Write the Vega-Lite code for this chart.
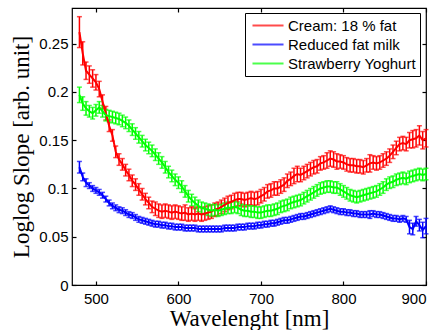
{
  "$schema": "https://vega.github.io/schema/vega-lite/v6.json",
  "width": 354,
  "height": 277,
  "autosize": {"type": "none"},
  "padding": {"left": 72, "top": 8, "right": 14, "bottom": 45},
  "background": "white",
  "config": {
    "view": {"stroke": "black", "strokeWidth": 1.2},
    "axis": {"grid": false, "domain": false, "ticks": true, "tickSize": -4, "tickColor": "black", "tickWidth": 1.2, "zindex": 2, "labelColor": "black", "titleColor": "black", "labelFont": "Liberation Sans", "labelFontSize": 15, "titleFont": "Liberation Serif", "titleFontSize": 23, "titleFontWeight": "normal"}
  },
  "data": {"values": [
{"w":480,"s":"Cream: 18 % fat","y":0.262,"e":0.016},{"w":484,"s":"Cream: 18 % fat","y":0.240,"e":0.012},{"w":488,"s":"Cream: 18 % fat","y":0.222,"e":0.009},{"w":492,"s":"Cream: 18 % fat","y":0.218,"e":0.009},{"w":496,"s":"Cream: 18 % fat","y":0.214,"e":0.009},{"w":500,"s":"Cream: 18 % fat","y":0.210,"e":0.008},{"w":504,"s":"Cream: 18 % fat","y":0.203,"e":0.008},{"w":508,"s":"Cream: 18 % fat","y":0.190,"e":0.007},{"w":512,"s":"Cream: 18 % fat","y":0.178,"e":0.007},{"w":516,"s":"Cream: 18 % fat","y":0.165,"e":0.006},{"w":520,"s":"Cream: 18 % fat","y":0.155,"e":0.006},{"w":524,"s":"Cream: 18 % fat","y":0.138,"e":0.006},{"w":528,"s":"Cream: 18 % fat","y":0.130,"e":0.006},{"w":532,"s":"Cream: 18 % fat","y":0.125,"e":0.006},{"w":536,"s":"Cream: 18 % fat","y":0.119,"e":0.006},{"w":540,"s":"Cream: 18 % fat","y":0.114,"e":0.006},{"w":544,"s":"Cream: 18 % fat","y":0.108,"e":0.006},{"w":548,"s":"Cream: 18 % fat","y":0.104,"e":0.006},{"w":552,"s":"Cream: 18 % fat","y":0.099,"e":0.006},{"w":556,"s":"Cream: 18 % fat","y":0.094,"e":0.006},{"w":560,"s":"Cream: 18 % fat","y":0.089,"e":0.006},{"w":564,"s":"Cream: 18 % fat","y":0.085,"e":0.006},{"w":568,"s":"Cream: 18 % fat","y":0.081,"e":0.006},{"w":572,"s":"Cream: 18 % fat","y":0.079,"e":0.007},{"w":576,"s":"Cream: 18 % fat","y":0.077,"e":0.007},{"w":580,"s":"Cream: 18 % fat","y":0.076,"e":0.007},{"w":584,"s":"Cream: 18 % fat","y":0.077,"e":0.007},{"w":588,"s":"Cream: 18 % fat","y":0.076,"e":0.007},{"w":592,"s":"Cream: 18 % fat","y":0.075,"e":0.007},{"w":596,"s":"Cream: 18 % fat","y":0.076,"e":0.007},{"w":600,"s":"Cream: 18 % fat","y":0.075,"e":0.007},{"w":604,"s":"Cream: 18 % fat","y":0.074,"e":0.007},{"w":608,"s":"Cream: 18 % fat","y":0.075,"e":0.008},{"w":612,"s":"Cream: 18 % fat","y":0.073,"e":0.007},{"w":616,"s":"Cream: 18 % fat","y":0.074,"e":0.007},{"w":620,"s":"Cream: 18 % fat","y":0.073,"e":0.007},{"w":624,"s":"Cream: 18 % fat","y":0.074,"e":0.007},{"w":628,"s":"Cream: 18 % fat","y":0.073,"e":0.007},{"w":632,"s":"Cream: 18 % fat","y":0.074,"e":0.007},{"w":636,"s":"Cream: 18 % fat","y":0.075,"e":0.007},{"w":640,"s":"Cream: 18 % fat","y":0.076,"e":0.007},{"w":644,"s":"Cream: 18 % fat","y":0.078,"e":0.007},{"w":648,"s":"Cream: 18 % fat","y":0.079,"e":0.007},{"w":652,"s":"Cream: 18 % fat","y":0.081,"e":0.007},{"w":656,"s":"Cream: 18 % fat","y":0.083,"e":0.007},{"w":660,"s":"Cream: 18 % fat","y":0.085,"e":0.007},{"w":664,"s":"Cream: 18 % fat","y":0.086,"e":0.007},{"w":668,"s":"Cream: 18 % fat","y":0.088,"e":0.007},{"w":672,"s":"Cream: 18 % fat","y":0.089,"e":0.007},{"w":676,"s":"Cream: 18 % fat","y":0.089,"e":0.007},{"w":680,"s":"Cream: 18 % fat","y":0.088,"e":0.007},{"w":684,"s":"Cream: 18 % fat","y":0.089,"e":0.007},{"w":688,"s":"Cream: 18 % fat","y":0.090,"e":0.007},{"w":692,"s":"Cream: 18 % fat","y":0.089,"e":0.007},{"w":696,"s":"Cream: 18 % fat","y":0.090,"e":0.007},{"w":700,"s":"Cream: 18 % fat","y":0.092,"e":0.007},{"w":704,"s":"Cream: 18 % fat","y":0.094,"e":0.007},{"w":708,"s":"Cream: 18 % fat","y":0.097,"e":0.007},{"w":712,"s":"Cream: 18 % fat","y":0.098,"e":0.007},{"w":716,"s":"Cream: 18 % fat","y":0.100,"e":0.007},{"w":720,"s":"Cream: 18 % fat","y":0.100,"e":0.007},{"w":724,"s":"Cream: 18 % fat","y":0.102,"e":0.007},{"w":728,"s":"Cream: 18 % fat","y":0.104,"e":0.007},{"w":732,"s":"Cream: 18 % fat","y":0.108,"e":0.007},{"w":736,"s":"Cream: 18 % fat","y":0.110,"e":0.007},{"w":740,"s":"Cream: 18 % fat","y":0.113,"e":0.008},{"w":744,"s":"Cream: 18 % fat","y":0.115,"e":0.008},{"w":748,"s":"Cream: 18 % fat","y":0.114,"e":0.007},{"w":752,"s":"Cream: 18 % fat","y":0.116,"e":0.007},{"w":756,"s":"Cream: 18 % fat","y":0.118,"e":0.007},{"w":760,"s":"Cream: 18 % fat","y":0.120,"e":0.007},{"w":764,"s":"Cream: 18 % fat","y":0.122,"e":0.007},{"w":768,"s":"Cream: 18 % fat","y":0.123,"e":0.007},{"w":772,"s":"Cream: 18 % fat","y":0.126,"e":0.007},{"w":776,"s":"Cream: 18 % fat","y":0.127,"e":0.007},{"w":780,"s":"Cream: 18 % fat","y":0.129,"e":0.008},{"w":784,"s":"Cream: 18 % fat","y":0.131,"e":0.008},{"w":788,"s":"Cream: 18 % fat","y":0.130,"e":0.008},{"w":792,"s":"Cream: 18 % fat","y":0.128,"e":0.008},{"w":796,"s":"Cream: 18 % fat","y":0.128,"e":0.007},{"w":800,"s":"Cream: 18 % fat","y":0.127,"e":0.007},{"w":804,"s":"Cream: 18 % fat","y":0.125,"e":0.007},{"w":808,"s":"Cream: 18 % fat","y":0.124,"e":0.007},{"w":812,"s":"Cream: 18 % fat","y":0.124,"e":0.007},{"w":816,"s":"Cream: 18 % fat","y":0.123,"e":0.007},{"w":820,"s":"Cream: 18 % fat","y":0.123,"e":0.007},{"w":824,"s":"Cream: 18 % fat","y":0.122,"e":0.007},{"w":828,"s":"Cream: 18 % fat","y":0.124,"e":0.007},{"w":832,"s":"Cream: 18 % fat","y":0.126,"e":0.009},{"w":836,"s":"Cream: 18 % fat","y":0.127,"e":0.007},{"w":840,"s":"Cream: 18 % fat","y":0.126,"e":0.007},{"w":844,"s":"Cream: 18 % fat","y":0.127,"e":0.007},{"w":848,"s":"Cream: 18 % fat","y":0.129,"e":0.007},{"w":852,"s":"Cream: 18 % fat","y":0.131,"e":0.007},{"w":856,"s":"Cream: 18 % fat","y":0.134,"e":0.007},{"w":860,"s":"Cream: 18 % fat","y":0.138,"e":0.007},{"w":864,"s":"Cream: 18 % fat","y":0.142,"e":0.007},{"w":868,"s":"Cream: 18 % fat","y":0.146,"e":0.007},{"w":872,"s":"Cream: 18 % fat","y":0.147,"e":0.007},{"w":876,"s":"Cream: 18 % fat","y":0.146,"e":0.007},{"w":880,"s":"Cream: 18 % fat","y":0.150,"e":0.008},{"w":884,"s":"Cream: 18 % fat","y":0.151,"e":0.009},{"w":888,"s":"Cream: 18 % fat","y":0.152,"e":0.009},{"w":892,"s":"Cream: 18 % fat","y":0.155,"e":0.010},{"w":896,"s":"Cream: 18 % fat","y":0.150,"e":0.009},{"w":900,"s":"Cream: 18 % fat","y":0.152,"e":0.009},
{"w":480,"s":"Reduced fat milk","y":0.122,"e":0.006},{"w":484,"s":"Reduced fat milk","y":0.112,"e":0.004},{"w":488,"s":"Reduced fat milk","y":0.106,"e":0.004},{"w":492,"s":"Reduced fat milk","y":0.103,"e":0.003},{"w":496,"s":"Reduced fat milk","y":0.100,"e":0.003},{"w":500,"s":"Reduced fat milk","y":0.098,"e":0.003},{"w":504,"s":"Reduced fat milk","y":0.096,"e":0.003},{"w":508,"s":"Reduced fat milk","y":0.093,"e":0.003},{"w":512,"s":"Reduced fat milk","y":0.089,"e":0.003},{"w":516,"s":"Reduced fat milk","y":0.085,"e":0.003},{"w":520,"s":"Reduced fat milk","y":0.082,"e":0.003},{"w":524,"s":"Reduced fat milk","y":0.080,"e":0.003},{"w":528,"s":"Reduced fat milk","y":0.078,"e":0.003},{"w":532,"s":"Reduced fat milk","y":0.077,"e":0.003},{"w":536,"s":"Reduced fat milk","y":0.075,"e":0.003},{"w":540,"s":"Reduced fat milk","y":0.073,"e":0.003},{"w":544,"s":"Reduced fat milk","y":0.072,"e":0.003},{"w":548,"s":"Reduced fat milk","y":0.070,"e":0.003},{"w":552,"s":"Reduced fat milk","y":0.068,"e":0.003},{"w":556,"s":"Reduced fat milk","y":0.067,"e":0.003},{"w":560,"s":"Reduced fat milk","y":0.066,"e":0.003},{"w":564,"s":"Reduced fat milk","y":0.065,"e":0.003},{"w":568,"s":"Reduced fat milk","y":0.064,"e":0.003},{"w":572,"s":"Reduced fat milk","y":0.063,"e":0.003},{"w":576,"s":"Reduced fat milk","y":0.063,"e":0.003},{"w":580,"s":"Reduced fat milk","y":0.062,"e":0.003},{"w":584,"s":"Reduced fat milk","y":0.062,"e":0.003},{"w":588,"s":"Reduced fat milk","y":0.061,"e":0.003},{"w":592,"s":"Reduced fat milk","y":0.061,"e":0.003},{"w":596,"s":"Reduced fat milk","y":0.060,"e":0.003},{"w":600,"s":"Reduced fat milk","y":0.060,"e":0.003},{"w":604,"s":"Reduced fat milk","y":0.060,"e":0.003},{"w":608,"s":"Reduced fat milk","y":0.059,"e":0.003},{"w":612,"s":"Reduced fat milk","y":0.059,"e":0.003},{"w":616,"s":"Reduced fat milk","y":0.059,"e":0.003},{"w":620,"s":"Reduced fat milk","y":0.059,"e":0.003},{"w":624,"s":"Reduced fat milk","y":0.058,"e":0.003},{"w":628,"s":"Reduced fat milk","y":0.058,"e":0.003},{"w":632,"s":"Reduced fat milk","y":0.058,"e":0.003},{"w":636,"s":"Reduced fat milk","y":0.058,"e":0.003},{"w":640,"s":"Reduced fat milk","y":0.058,"e":0.003},{"w":644,"s":"Reduced fat milk","y":0.058,"e":0.003},{"w":648,"s":"Reduced fat milk","y":0.058,"e":0.003},{"w":652,"s":"Reduced fat milk","y":0.058,"e":0.003},{"w":656,"s":"Reduced fat milk","y":0.059,"e":0.003},{"w":660,"s":"Reduced fat milk","y":0.059,"e":0.003},{"w":664,"s":"Reduced fat milk","y":0.059,"e":0.003},{"w":668,"s":"Reduced fat milk","y":0.059,"e":0.003},{"w":672,"s":"Reduced fat milk","y":0.060,"e":0.003},{"w":676,"s":"Reduced fat milk","y":0.060,"e":0.003},{"w":680,"s":"Reduced fat milk","y":0.060,"e":0.003},{"w":684,"s":"Reduced fat milk","y":0.061,"e":0.003},{"w":688,"s":"Reduced fat milk","y":0.061,"e":0.003},{"w":692,"s":"Reduced fat milk","y":0.061,"e":0.003},{"w":696,"s":"Reduced fat milk","y":0.062,"e":0.003},{"w":700,"s":"Reduced fat milk","y":0.062,"e":0.003},{"w":704,"s":"Reduced fat milk","y":0.063,"e":0.003},{"w":708,"s":"Reduced fat milk","y":0.063,"e":0.003},{"w":712,"s":"Reduced fat milk","y":0.064,"e":0.003},{"w":716,"s":"Reduced fat milk","y":0.064,"e":0.003},{"w":720,"s":"Reduced fat milk","y":0.065,"e":0.003},{"w":724,"s":"Reduced fat milk","y":0.066,"e":0.003},{"w":728,"s":"Reduced fat milk","y":0.067,"e":0.003},{"w":732,"s":"Reduced fat milk","y":0.067,"e":0.003},{"w":736,"s":"Reduced fat milk","y":0.068,"e":0.003},{"w":740,"s":"Reduced fat milk","y":0.069,"e":0.003},{"w":744,"s":"Reduced fat milk","y":0.070,"e":0.003},{"w":748,"s":"Reduced fat milk","y":0.071,"e":0.003},{"w":752,"s":"Reduced fat milk","y":0.071,"e":0.003},{"w":756,"s":"Reduced fat milk","y":0.072,"e":0.003},{"w":760,"s":"Reduced fat milk","y":0.073,"e":0.003},{"w":764,"s":"Reduced fat milk","y":0.074,"e":0.003},{"w":768,"s":"Reduced fat milk","y":0.075,"e":0.003},{"w":772,"s":"Reduced fat milk","y":0.076,"e":0.003},{"w":776,"s":"Reduced fat milk","y":0.077,"e":0.003},{"w":780,"s":"Reduced fat milk","y":0.078,"e":0.003},{"w":784,"s":"Reduced fat milk","y":0.079,"e":0.003},{"w":788,"s":"Reduced fat milk","y":0.078,"e":0.003},{"w":792,"s":"Reduced fat milk","y":0.077,"e":0.003},{"w":796,"s":"Reduced fat milk","y":0.076,"e":0.003},{"w":800,"s":"Reduced fat milk","y":0.076,"e":0.003},{"w":804,"s":"Reduced fat milk","y":0.075,"e":0.003},{"w":808,"s":"Reduced fat milk","y":0.075,"e":0.003},{"w":812,"s":"Reduced fat milk","y":0.074,"e":0.003},{"w":816,"s":"Reduced fat milk","y":0.074,"e":0.003},{"w":820,"s":"Reduced fat milk","y":0.073,"e":0.003},{"w":824,"s":"Reduced fat milk","y":0.073,"e":0.003},{"w":828,"s":"Reduced fat milk","y":0.073,"e":0.003},{"w":832,"s":"Reduced fat milk","y":0.073,"e":0.004},{"w":836,"s":"Reduced fat milk","y":0.074,"e":0.003},{"w":840,"s":"Reduced fat milk","y":0.073,"e":0.003},{"w":844,"s":"Reduced fat milk","y":0.073,"e":0.003},{"w":848,"s":"Reduced fat milk","y":0.072,"e":0.003},{"w":852,"s":"Reduced fat milk","y":0.071,"e":0.003},{"w":856,"s":"Reduced fat milk","y":0.070,"e":0.003},{"w":860,"s":"Reduced fat milk","y":0.069,"e":0.003},{"w":864,"s":"Reduced fat milk","y":0.069,"e":0.003},{"w":868,"s":"Reduced fat milk","y":0.068,"e":0.003},{"w":872,"s":"Reduced fat milk","y":0.069,"e":0.003},{"w":876,"s":"Reduced fat milk","y":0.068,"e":0.003},{"w":880,"s":"Reduced fat milk","y":0.060,"e":0.007},{"w":884,"s":"Reduced fat milk","y":0.058,"e":0.006},{"w":888,"s":"Reduced fat milk","y":0.066,"e":0.005},{"w":892,"s":"Reduced fat milk","y":0.062,"e":0.006},{"w":896,"s":"Reduced fat milk","y":0.057,"e":0.008},{"w":900,"s":"Reduced fat milk","y":0.061,"e":0.008},
{"w":480,"s":"Strawberry Yoghurt","y":0.197,"e":0.008},{"w":484,"s":"Strawberry Yoghurt","y":0.188,"e":0.007},{"w":488,"s":"Strawberry Yoghurt","y":0.183,"e":0.007},{"w":492,"s":"Strawberry Yoghurt","y":0.180,"e":0.006},{"w":496,"s":"Strawberry Yoghurt","y":0.178,"e":0.006},{"w":500,"s":"Strawberry Yoghurt","y":0.181,"e":0.006},{"w":504,"s":"Strawberry Yoghurt","y":0.184,"e":0.006},{"w":508,"s":"Strawberry Yoghurt","y":0.180,"e":0.006},{"w":512,"s":"Strawberry Yoghurt","y":0.176,"e":0.006},{"w":516,"s":"Strawberry Yoghurt","y":0.175,"e":0.006},{"w":520,"s":"Strawberry Yoghurt","y":0.174,"e":0.006},{"w":524,"s":"Strawberry Yoghurt","y":0.173,"e":0.006},{"w":528,"s":"Strawberry Yoghurt","y":0.172,"e":0.006},{"w":532,"s":"Strawberry Yoghurt","y":0.170,"e":0.006},{"w":536,"s":"Strawberry Yoghurt","y":0.168,"e":0.006},{"w":540,"s":"Strawberry Yoghurt","y":0.165,"e":0.006},{"w":544,"s":"Strawberry Yoghurt","y":0.161,"e":0.006},{"w":548,"s":"Strawberry Yoghurt","y":0.157,"e":0.006},{"w":552,"s":"Strawberry Yoghurt","y":0.153,"e":0.006},{"w":556,"s":"Strawberry Yoghurt","y":0.149,"e":0.006},{"w":560,"s":"Strawberry Yoghurt","y":0.145,"e":0.006},{"w":564,"s":"Strawberry Yoghurt","y":0.142,"e":0.006},{"w":568,"s":"Strawberry Yoghurt","y":0.139,"e":0.006},{"w":572,"s":"Strawberry Yoghurt","y":0.135,"e":0.006},{"w":576,"s":"Strawberry Yoghurt","y":0.131,"e":0.006},{"w":580,"s":"Strawberry Yoghurt","y":0.127,"e":0.006},{"w":584,"s":"Strawberry Yoghurt","y":0.122,"e":0.006},{"w":588,"s":"Strawberry Yoghurt","y":0.117,"e":0.006},{"w":592,"s":"Strawberry Yoghurt","y":0.113,"e":0.006},{"w":596,"s":"Strawberry Yoghurt","y":0.109,"e":0.006},{"w":600,"s":"Strawberry Yoghurt","y":0.106,"e":0.006},{"w":604,"s":"Strawberry Yoghurt","y":0.102,"e":0.006},{"w":608,"s":"Strawberry Yoghurt","y":0.097,"e":0.006},{"w":612,"s":"Strawberry Yoghurt","y":0.092,"e":0.006},{"w":616,"s":"Strawberry Yoghurt","y":0.088,"e":0.006},{"w":620,"s":"Strawberry Yoghurt","y":0.085,"e":0.006},{"w":624,"s":"Strawberry Yoghurt","y":0.082,"e":0.006},{"w":628,"s":"Strawberry Yoghurt","y":0.080,"e":0.006},{"w":632,"s":"Strawberry Yoghurt","y":0.079,"e":0.006},{"w":636,"s":"Strawberry Yoghurt","y":0.078,"e":0.006},{"w":640,"s":"Strawberry Yoghurt","y":0.077,"e":0.006},{"w":644,"s":"Strawberry Yoghurt","y":0.078,"e":0.006},{"w":648,"s":"Strawberry Yoghurt","y":0.077,"e":0.006},{"w":652,"s":"Strawberry Yoghurt","y":0.078,"e":0.006},{"w":656,"s":"Strawberry Yoghurt","y":0.079,"e":0.006},{"w":660,"s":"Strawberry Yoghurt","y":0.080,"e":0.006},{"w":664,"s":"Strawberry Yoghurt","y":0.080,"e":0.006},{"w":668,"s":"Strawberry Yoghurt","y":0.081,"e":0.006},{"w":672,"s":"Strawberry Yoghurt","y":0.080,"e":0.006},{"w":676,"s":"Strawberry Yoghurt","y":0.078,"e":0.006},{"w":680,"s":"Strawberry Yoghurt","y":0.077,"e":0.006},{"w":684,"s":"Strawberry Yoghurt","y":0.077,"e":0.006},{"w":688,"s":"Strawberry Yoghurt","y":0.076,"e":0.006},{"w":692,"s":"Strawberry Yoghurt","y":0.076,"e":0.006},{"w":696,"s":"Strawberry Yoghurt","y":0.075,"e":0.006},{"w":700,"s":"Strawberry Yoghurt","y":0.075,"e":0.006},{"w":704,"s":"Strawberry Yoghurt","y":0.076,"e":0.006},{"w":708,"s":"Strawberry Yoghurt","y":0.077,"e":0.006},{"w":712,"s":"Strawberry Yoghurt","y":0.077,"e":0.006},{"w":716,"s":"Strawberry Yoghurt","y":0.078,"e":0.006},{"w":720,"s":"Strawberry Yoghurt","y":0.079,"e":0.006},{"w":724,"s":"Strawberry Yoghurt","y":0.081,"e":0.006},{"w":728,"s":"Strawberry Yoghurt","y":0.082,"e":0.006},{"w":732,"s":"Strawberry Yoghurt","y":0.083,"e":0.006},{"w":736,"s":"Strawberry Yoghurt","y":0.085,"e":0.006},{"w":740,"s":"Strawberry Yoghurt","y":0.086,"e":0.006},{"w":744,"s":"Strawberry Yoghurt","y":0.087,"e":0.006},{"w":748,"s":"Strawberry Yoghurt","y":0.088,"e":0.006},{"w":752,"s":"Strawberry Yoghurt","y":0.090,"e":0.006},{"w":756,"s":"Strawberry Yoghurt","y":0.092,"e":0.006},{"w":760,"s":"Strawberry Yoghurt","y":0.094,"e":0.006},{"w":764,"s":"Strawberry Yoghurt","y":0.096,"e":0.006},{"w":768,"s":"Strawberry Yoghurt","y":0.098,"e":0.006},{"w":772,"s":"Strawberry Yoghurt","y":0.100,"e":0.006},{"w":776,"s":"Strawberry Yoghurt","y":0.101,"e":0.006},{"w":780,"s":"Strawberry Yoghurt","y":0.102,"e":0.006},{"w":784,"s":"Strawberry Yoghurt","y":0.102,"e":0.006},{"w":788,"s":"Strawberry Yoghurt","y":0.101,"e":0.006},{"w":792,"s":"Strawberry Yoghurt","y":0.101,"e":0.006},{"w":796,"s":"Strawberry Yoghurt","y":0.099,"e":0.006},{"w":800,"s":"Strawberry Yoghurt","y":0.097,"e":0.006},{"w":804,"s":"Strawberry Yoghurt","y":0.095,"e":0.006},{"w":808,"s":"Strawberry Yoghurt","y":0.093,"e":0.006},{"w":812,"s":"Strawberry Yoghurt","y":0.092,"e":0.006},{"w":816,"s":"Strawberry Yoghurt","y":0.091,"e":0.006},{"w":820,"s":"Strawberry Yoghurt","y":0.092,"e":0.006},{"w":824,"s":"Strawberry Yoghurt","y":0.093,"e":0.006},{"w":828,"s":"Strawberry Yoghurt","y":0.094,"e":0.006},{"w":832,"s":"Strawberry Yoghurt","y":0.095,"e":0.006},{"w":836,"s":"Strawberry Yoghurt","y":0.096,"e":0.006},{"w":840,"s":"Strawberry Yoghurt","y":0.097,"e":0.006},{"w":844,"s":"Strawberry Yoghurt","y":0.099,"e":0.006},{"w":848,"s":"Strawberry Yoghurt","y":0.101,"e":0.006},{"w":852,"s":"Strawberry Yoghurt","y":0.104,"e":0.006},{"w":856,"s":"Strawberry Yoghurt","y":0.106,"e":0.006},{"w":860,"s":"Strawberry Yoghurt","y":0.107,"e":0.006},{"w":864,"s":"Strawberry Yoghurt","y":0.109,"e":0.006},{"w":868,"s":"Strawberry Yoghurt","y":0.110,"e":0.006},{"w":872,"s":"Strawberry Yoghurt","y":0.111,"e":0.006},{"w":876,"s":"Strawberry Yoghurt","y":0.110,"e":0.006},{"w":880,"s":"Strawberry Yoghurt","y":0.112,"e":0.006},{"w":884,"s":"Strawberry Yoghurt","y":0.113,"e":0.006},{"w":888,"s":"Strawberry Yoghurt","y":0.114,"e":0.006},{"w":892,"s":"Strawberry Yoghurt","y":0.115,"e":0.006},{"w":896,"s":"Strawberry Yoghurt","y":0.114,"e":0.006},{"w":900,"s":"Strawberry Yoghurt","y":0.115,"e":0.006}
  ]},
  "encoding": {
    "color": {"field": "s", "type": "nominal",
              "scale": {"domain": ["Cream: 18 % fat", "Reduced fat milk", "Strawberry Yoghurt"], "range": ["#ff0000", "#0000ff", "#00ff00"]},
              "legend": {"orient": "none", "legendX": 173, "legendY": 5, "title": null, "symbolType": "M-0.71,0H3.68", "symbolSize": 200, "symbolStrokeWidth": 2,
                         "labelFont": "Liberation Sans", "labelFontSize": 15, "labelColor": "black", "strokeColor": "black", "fillColor": "white", "padding": 4, "rowPadding": 2, "labelOffset": 22}}
  },
  "layer": [
    {
      "mark": {"type": "errorbar", "ticks": {"size": 5, "thickness": 1.5}, "thickness": 1.5},
      "encoding": {
        "x": {"field": "w", "type": "quantitative", "scale": {"domain": [471, 900], "nice": false, "zero": false}, "axis": null},
        "y": {"field": "y", "type": "quantitative", "scale": {"domain": [0, 0.287], "nice": false}, "axis": null},
        "yError": {"field": "e"}
      }
    },
    {
      "mark": {"type": "line", "strokeWidth": 2},
      "encoding": {
        "x": {"field": "w", "type": "quantitative",
              "axis": {"orient": "bottom", "values": [500, 600, 700, 800, 900], "title": "Wavelenght [nm]", "labelPadding": 10, "titlePadding": 1}},
        "y": {"field": "y", "type": "quantitative",
              "axis": {"orient": "left", "values": [0, 0.05, 0.1, 0.15, 0.2, 0.25], "format": ".2~f", "title": "Loglog Slope [arb. unit]", "labelPadding": 8, "titlePadding": 5}}
      }
    },
    {
      "mark": {"type": "point", "opacity": 0},
      "encoding": {
        "x": {"field": "w", "type": "quantitative",
              "axis": {"orient": "top", "values": [500, 600, 700, 800, 900], "labels": false, "title": null}},
        "y": {"field": "y", "type": "quantitative",
              "axis": {"orient": "right", "values": [0, 0.05, 0.1, 0.15, 0.2, 0.25], "labels": false, "title": null}},
        "color": {"value": "black"}
      }
    }
  ]
}
